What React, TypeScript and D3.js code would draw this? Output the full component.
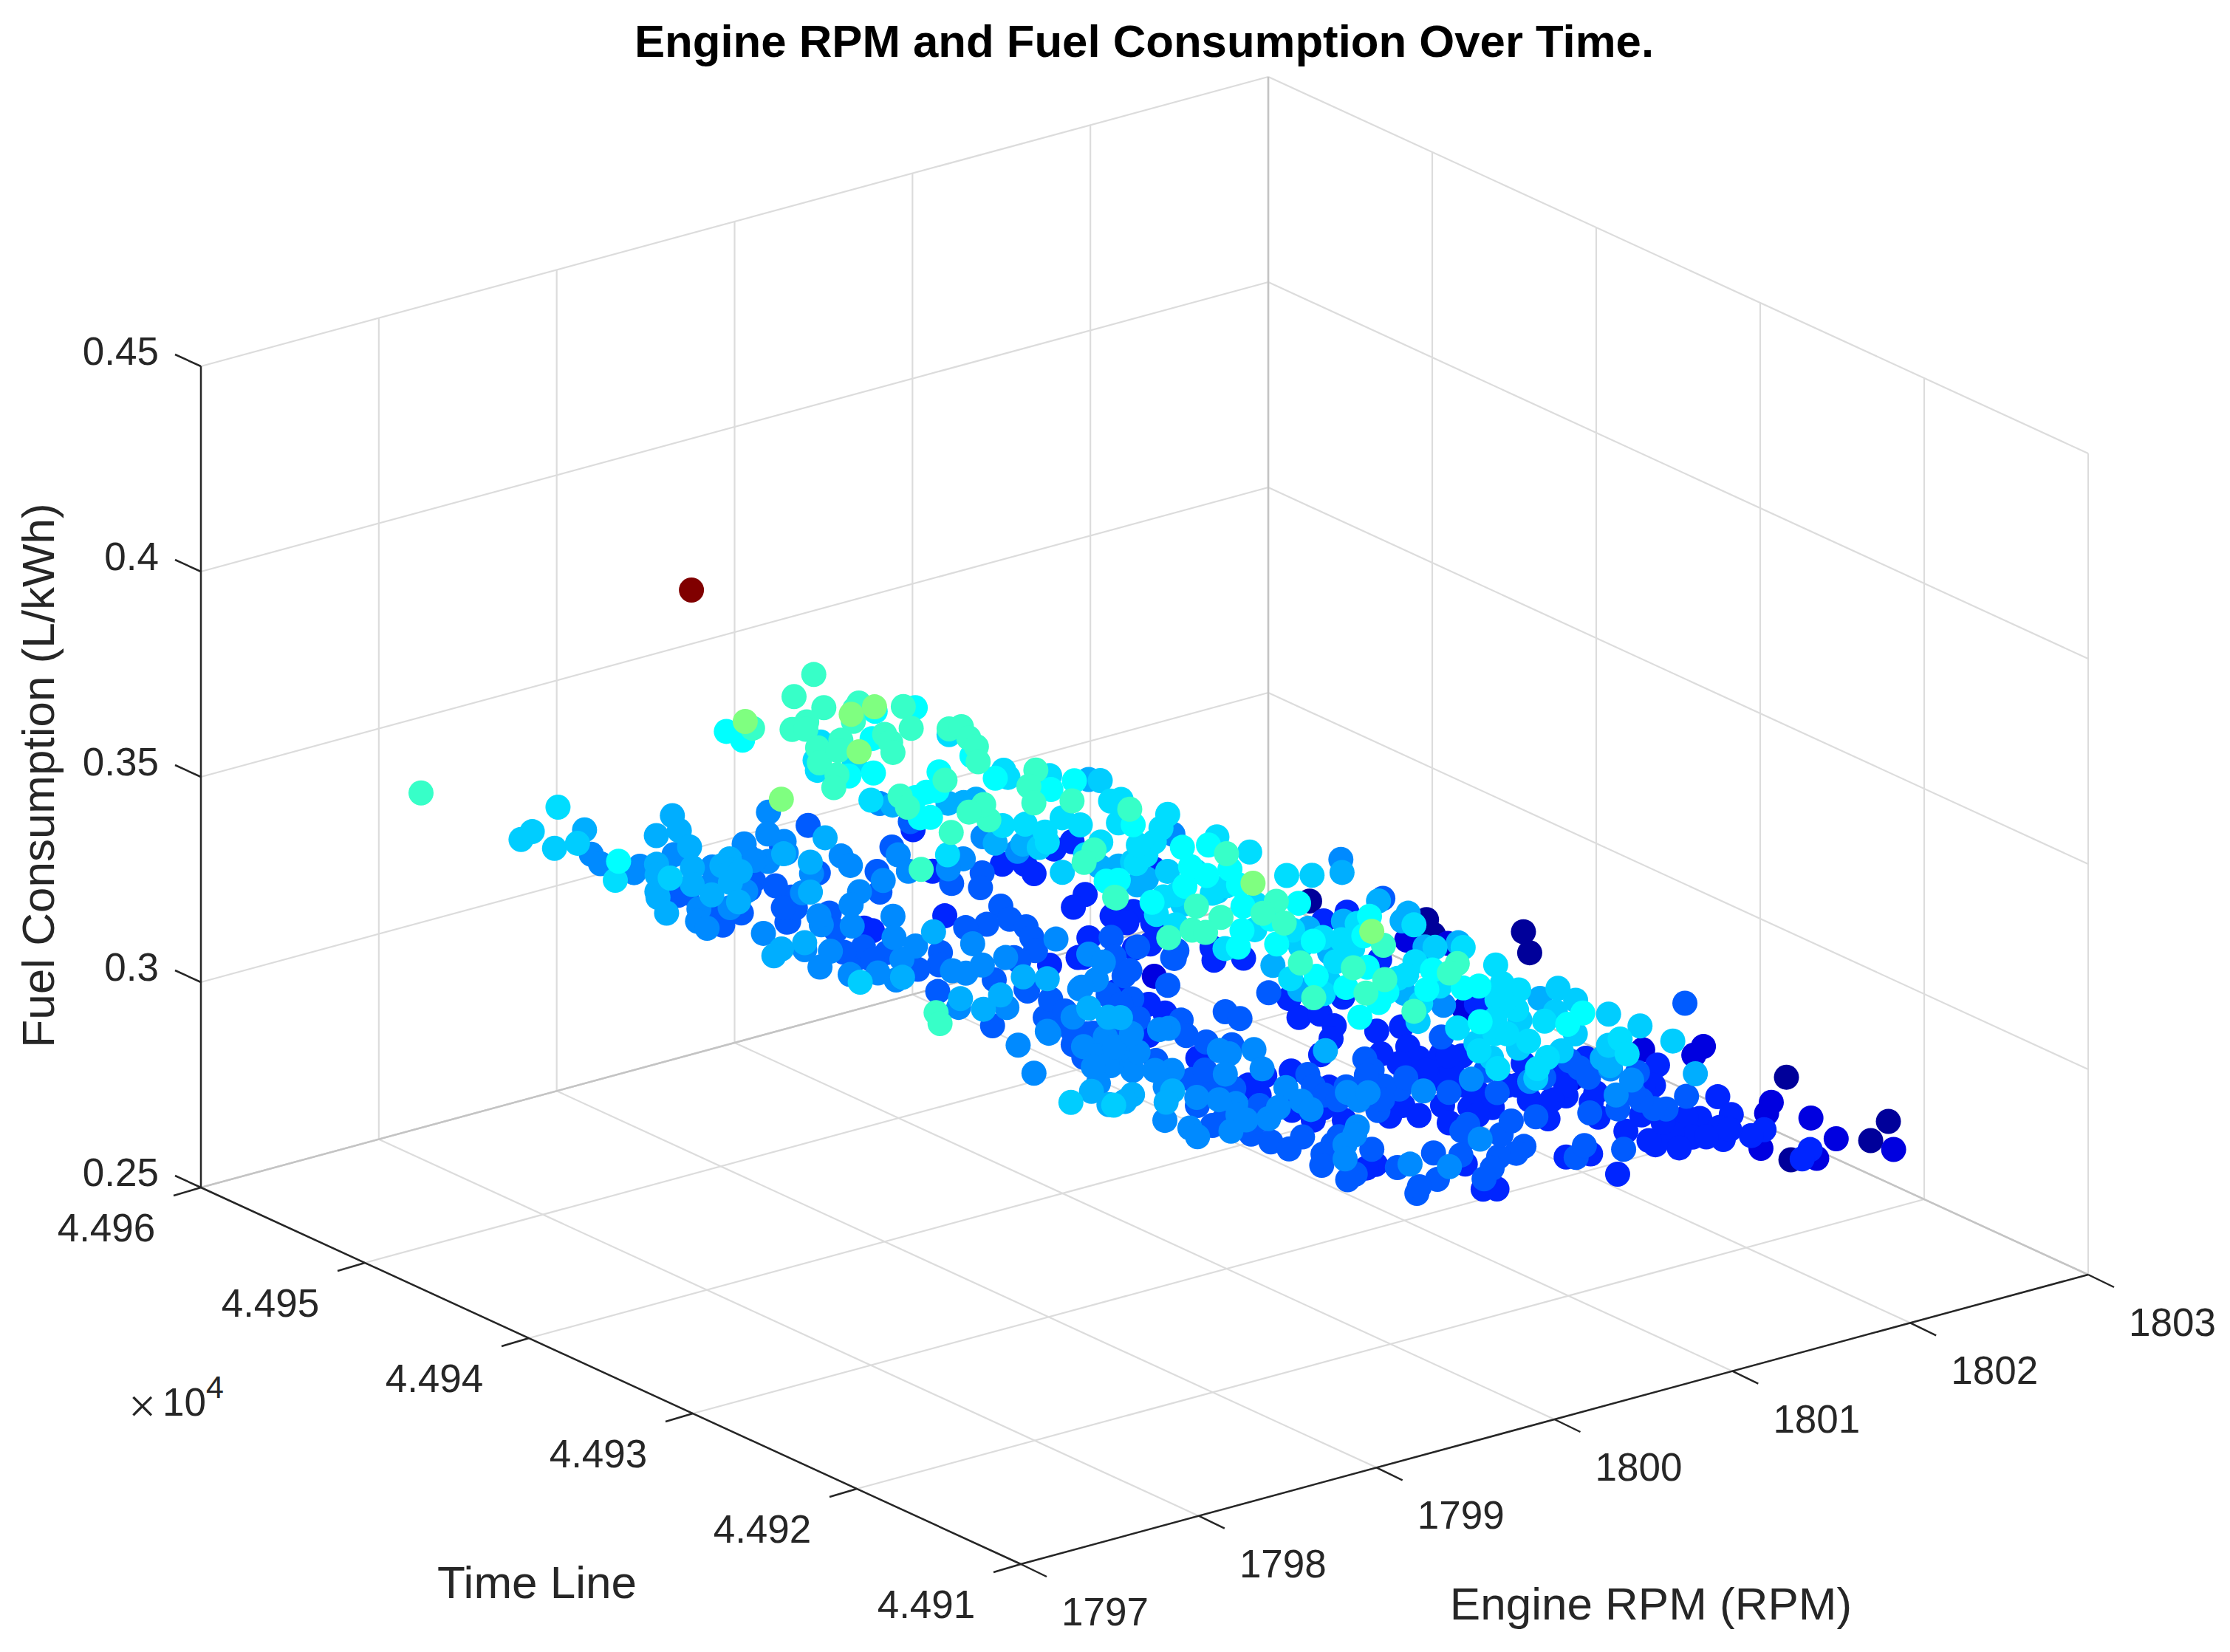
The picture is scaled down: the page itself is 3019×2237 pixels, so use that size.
import React, { useEffect, useRef } from 'react';
import * as d3 from 'd3';

const rpmTicks = [1797, 1798, 1799, 1800, 1801, 1802, 1803];
const timeTicks = [44910, 44920, 44930, 44940, 44950, 44960];
const timeTickLabels = ['4.491', '4.492', '4.493', '4.494', '4.495', '4.496'];
const fuelTicks = [0.25, 0.3, 0.35, 0.4, 0.45];
const fuelTickLabels = ['0.25', '0.3', '0.35', '0.4', '0.45'];

const rpm = [
1797.97,1798.74,1798.44,1798.54,1798.49,1798.88,1798.61,1798.89,1798.85,1798.38,
1798.38,1798.97,1798.90,1799.30,1799.09,1799.21,1799.12,1799.18,1798.87,1798.79,
1798.67,1798.97,1798.84,1799.10,1798.66,1798.62,1798.53,1799.22,1799.09,1799.17,
1799.09,1798.99,1798.83,1799.51,1799.66,1799.48,1799.40,1799.15,1798.87,1798.97,
1799.19,1798.85,1798.75,1798.73,1799.03,1798.89,1798.66,1798.58,1799.84,1799.67,
1799.46,1799.40,1799.84,1799.73,1799.28,1799.35,1799.76,1799.75,1799.64,1800.27,
1800.03,1800.05,1799.88,1799.77,1799.82,1800.21,1800.15,1799.78,1799.92,1800.05,
1800.44,1800.34,1800.61,1800.20,1800.17,1799.72,1799.86,1800.01,1799.61,1799.52,
1799.77,1800.22,1800.06,1800.02,1799.95,1799.85,1799.58,1799.96,1799.47,1799.94,
1800.13,1798.88,1799.90,1800.30,1799.64,1799.58,1800.16,1799.78,1799.82,1799.92,
1800.00,1800.20,1799.92,1800.05,1800.37,1800.49,1800.69,1800.23,1799.97,1799.88,
1799.15,1800.44,1799.54,1799.75,1800.17,1800.04,1800.16,1800.35,1800.23,1800.74,
1800.82,1800.78,1800.42,1800.23,1800.41,1800.17,1799.77,1799.87,1799.76,1800.43,
1800.50,1800.33,1800.68,1800.39,1800.33,1800.29,1800.44,1800.18,1800.35,1800.60,
1800.56,1800.32,1800.17,1800.06,1800.72,1800.46,1800.61,1800.21,1801.05,1800.94,
1800.74,1800.79,1800.35,1800.60,1800.48,1800.45,1800.44,1800.26,1800.27,1800.20,
1800.21,1800.32,1801.04,1801.16,1800.10,1800.24,1799.91,1799.78,1800.42,1800.49,
1800.43,1799.95,1800.00,1799.62,1800.80,1800.66,1800.73,1800.82,1800.16,1800.09,
1800.09,1800.03,1799.88,1800.48,1800.31,1800.33,1800.31,1799.88,1800.17,1799.94,
1800.13,1799.30,1799.37,1799.61,1799.56,1799.81,1799.42,1799.55,1799.97,1799.87,
1800.14,1799.33,1799.59,1799.49,1799.27,1799.30,1799.57,1799.28,1798.91,1799.01,
1798.91,1799.08,1799.18,1799.21,1799.61,1799.47,1799.14,1799.34,1799.58,1799.71,
1799.29,1800.06,1799.86,1799.33,1799.29,1799.91,1799.33,1799.18,1799.38,1798.87,
1799.00,1798.99,1798.54,1799.25,1799.36,1798.99,1798.79,1798.91,1799.48,1799.76,
1799.26,1799.16,1799.22,1799.50,1799.29,1799.42,1799.49,1799.34,1799.20,1799.52,
1799.77,1799.43,1800.10,1799.67,1799.76,1799.72,1799.55,1799.42,1799.99,1799.72,
1799.84,1799.59,1799.67,1800.84,1800.71,1801.10,1800.58,1800.45,1800.35,1800.48,
1800.84,1800.59,1800.35,1800.84,1800.48,1800.35,1800.36,1800.48,1801.24,1800.12,
1799.62,1800.41,1799.95,1800.03,1800.84,1800.75,1800.25,1800.19,1799.84,1800.50,
1800.39,1799.90,1800.79,1800.96,1801.50,1801.23,1800.16,1800.02,1800.46,1802.08,
1799.84,1800.24,1800.02,1800.26,1801.44,1801.59,1801.57,1801.14,1800.61,1800.67,
1800.86,1800.68,1799.95,1800.20,1800.44,1801.07,1801.15,1800.86,1802.35,1801.87,
1802.26,1801.99,1800.95,1800.84,1801.10,1800.86,1800.32,1800.58,1800.45,1800.42,
1800.22,1800.48,1800.46,1800.39,1800.22,1800.07,1800.37,1800.49,1801.34,1800.30,
1799.92,1799.77,1800.27,1800.01,1799.96,1800.01,1799.55,1799.98,1799.94,1800.09,
1799.77,1799.98,1799.80,1800.78,1800.92,1800.44,1800.72,1800.61,1800.71,1800.67,
1800.56,1799.80,1800.40,1800.28,1799.80,1800.21,1800.74,1800.22,1800.19,1800.25,
1800.90,1801.54,1800.71,1800.77,1800.72,1800.61,1800.62,1800.27,1800.21,1800.83,
1800.89,1800.63,1800.27,1800.67,1800.01,1800.44,1800.16,1800.13,1800.30,1799.92,
1800.17,1799.73,1799.71,1799.99,1800.15,1800.33,1800.39,1800.05,1800.75,1800.87,
1800.01,1799.91,1800.84,1800.44,1800.37,1799.50,1799.64,1799.67,1800.02,1800.70,
1800.14,1800.65,1800.56,1800.12,1800.16,1800.17,1799.92,1799.59,1799.55,1799.82,
1799.94,1800.14,1800.14,1799.60,1799.91,1799.84,1799.94,1799.61,1799.73,1799.61,
1800.04,1800.17,1799.95,1800.18,1799.55,1799.88,1799.50,1799.47,1799.87,1799.87,
1799.54,1799.87,1799.58,1799.53,1799.25,1799.17,1799.25,1799.30,1799.02,1799.16,
1799.32,1799.50,1799.28,1798.95,1799.13,1798.84,1798.87,1799.14,1798.78,1798.70,
1798.49,1799.52,1799.30,1799.23,1799.10,1798.90,1798.86,1799.45,1799.50,1799.98,
1799.58,1798.10,1798.03,1798.93,1798.77,1799.13,1799.46,1799.60,1799.62,1799.80,
1800.29,1799.87,1799.60,1799.85,1799.58,1799.30,1799.62,1799.35,1799.15,1799.13,
1799.29,1799.09,1799.26,1798.92,1798.66,1798.36,1798.62,1799.22,1800.37,1799.29,
1799.16,1799.30,1799.31,1799.85,1799.43,1799.32,1799.50,1799.39,1799.30,1799.21,
1799.35,1799.28,1799.60,1799.75,1799.69,1799.55,1800.84,1802.46,1802.60,1800.72,
1800.73,1800.58,1800.96,1800.96,1800.93,1800.62,1800.94,1800.96,1801.83,1800.96,
1802.10,1802.00,1800.93,1800.71,1800.70,1800.62,1800.72,1800.69,1800.67,1800.48,
1800.58,1800.77,1800.58,1800.57,1800.58,1800.42,1800.36,1800.31,1800.05,1800.19,
1800.12,1800.31,1800.49,1800.19,1800.19,1800.98,1800.96,1801.10,1801.31,1801.34,
1800.74,1800.48,1800.86,1800.46,1801.39,1800.95,1800.99,1800.65,1800.90,1800.78,
1800.66,1800.83,1800.84,1801.13,1801.51,1801.86,1801.34,1801.30,1801.12,1801.48,
1800.95,1800.91,1801.07,1801.25,1801.21,1801.39,1801.25,1801.17,1801.08,1801.04,
1800.95,1800.89,1800.90,1800.89,1800.49,1800.53,1800.16,1800.08,1799.99,1800.17,
1800.31,1800.43,1800.71,1800.13,1800.06,1799.84,1799.79,1799.40,1799.87,1799.52,
1800.07,1799.60,1799.42,1799.48,1799.88,1799.94,1799.99,1799.77,1800.48,1800.26,
1800.38,1800.59,1801.81,1801.91,1801.39,1801.52,1801.30,1802.41,1801.93,1801.79,
1801.40,1801.64,1801.86,1802.22,1802.43,1801.98,1801.30,1797.96,
1800.50,1800.39,1800.28,1800.19,1800.50,1800.46,1800.24,1800.05,1800.39,1800.44,
1800.57,1800.46,1800.21,1800.39,1800.52,1800.25,1800.20,1800.18,1800.27,1800.28,
1800.02,1800.65,1800.31,1800.52,1800.33,1799.80,1799.86,1800.00,1799.51,1799.42,
1799.83,1799.03,1799.46,1799.48,1799.46,1799.78,1800.18,1799.62,1799.44,1799.91,
1799.22,1799.40,1799.37,1799.22,1799.07,1799.15,1799.11,1799.42,1799.11,1799.52,
1799.38,1799.39,1799.25,1799.77,1799.40,1799.32,1798.83,1798.88,1799.29,1800.35,
1800.37,1800.61,1800.82,1801.05,1800.66,1800.76,1801.03,1800.92,1801.08,1800.79,
1800.87,1800.84,1800.60,1800.49,1801.09,1801.13,1800.93,1801.27,1800.96,1800.38,
1800.49,1800.39,1800.50,1800.73,1800.82,
];

const timeLine = [
44957.1,44957.1,44956.1,44956.5,44954.6,44957.0,44954.5,44956.7,44955.7,44949.5,
44949.7,44954.6,44954.2,44956.2,44954.9,44954.8,44953.2,44954.8,44952.5,44951.6,
44949.5,44951.4,44950.0,44953.7,44950.2,44949.7,44948.2,44952.9,44950.9,44951.3,
44950.3,44949.3,44948.7,44954.1,44955.6,44953.2,44952.6,44950.1,44947.5,44949.1,
44950.8,44949.7,44948.7,44947.9,44950.2,44946.2,44942.6,44942.2,44956.2,44954.4,
44952.1,44950.5,44955.4,44953.7,44949.0,44952.3,44957.9,44956.8,44955.0,44958.1,
44956.7,44955.1,44954.3,44954.0,44953.7,44954.7,44954.3,44950.5,44950.6,44953.3,
44956.2,44953.4,44955.6,44951.4,44956.6,44951.9,44952.0,44955.2,44950.6,44947.2,
44951.2,44954.0,44951.5,44950.7,44949.8,44951.4,44949.2,44951.1,44948.2,44954.3,
44954.1,44945.0,44950.6,44954.4,44946.0,44944.9,44952.1,44946.3,44946.1,44948.1,
44948.3,44949.7,44946.3,44948.2,44951.0,44954.6,44956.6,44952.9,44949.7,44948.1,
44939.4,44952.7,44941.8,44944.3,44947.9,44947.4,44948.5,44948.7,44947.5,44951.7,
44951.2,44950.2,44947.3,44946.6,44949.3,44945.5,44942.0,44943.4,44943.1,44950.7,
44950.7,44950.5,44954.3,44950.4,44949.3,44948.4,44950.3,44947.1,44947.9,44950.1,
44949.4,44945.1,44943.9,44942.4,44948.6,44945.7,44945.9,44941.7,44949.8,44947.9,
44945.1,44945.0,44939.7,44943.1,44940.9,44943.8,44944.8,44945.1,44944.0,44943.1,
44943.7,44945.9,44951.8,44952.0,44941.1,44941.2,44937.1,44936.3,44942.3,44941.9,
44940.4,44936.8,44936.6,44932.7,44947.3,44946.5,44944.9,44944.7,44945.5,44944.2,
44943.2,44942.2,44939.1,44943.6,44940.4,44939.0,44942.1,44937.1,44938.7,44941.0,
44942.2,44934.8,44934.1,44938.0,44938.7,44940.9,44938.6,44940.6,44944.3,44944.5,
44948.7,44940.6,44943.0,44942.0,44938.8,44938.3,44939.5,44939.8,44934.4,44935.6,
44933.0,44933.8,44934.5,44935.7,44936.5,44935.0,44931.6,44932.2,44934.4,44934.8,
44930.7,44936.9,44935.7,44929.2,44929.5,44934.8,44941.7,44940.9,44942.1,44937.5,
44939.3,44940.3,44936.5,44944.4,44945.2,44943.2,44942.6,44943.9,44944.7,44949.5,
44944.8,44945.6,44946.4,44948.8,44949.0,44950.0,44951.0,44948.7,44946.7,44950.1,
44952.4,44949.2,44956.6,44950.9,44950.9,44949.9,44947.5,44946.6,44951.2,44947.9,
44949.4,44952.4,44953.4,44942.7,44941.7,44945.2,44940.7,44939.8,44939.3,44937.9,
44939.7,44937.5,44933.8,44937.7,44935.0,44935.0,44936.1,44938.8,44947.9,44938.1,
44932.6,44939.9,44934.0,44934.6,44944.8,44945.0,44935.8,44934.6,44930.1,44936.0,
44933.5,44927.3,44934.9,44935.2,44939.3,44936.3,44928.7,44928.0,44930.6,44947.5,
44928.6,44931.6,44926.7,44931.1,44939.7,44939.9,44937.5,44933.1,44927.9,44929.3,
44932.2,44932.4,44920.6,44922.6,44926.4,44930.9,44931.4,44927.9,44943.3,44939.3,
44941.9,44938.1,44928.2,44926.4,44927.8,44924.9,44919.4,44924.8,44923.9,44922.0,
44918.8,44922.2,44919.6,44919.8,44927.1,44927.7,44929.5,44928.3,44935.2,44926.6,
44921.4,44923.0,44930.1,44926.2,44924.1,44924.2,44919.8,44922.5,44919.7,44921.2,
44919.0,44920.5,44919.7,44929.3,44932.9,44932.2,44934.0,44932.2,44932.0,44930.7,
44929.7,44921.8,44928.6,44921.2,44916.4,44920.6,44924.8,44918.3,44916.6,44917.5,
44929.1,44932.2,44924.6,44927.3,44926.1,44926.1,44927.3,44924.5,44923.4,44925.9,
44925.3,44924.0,44918.0,44922.8,44918.1,44921.6,44921.2,44921.8,44922.5,44919.9,
44921.9,44919.7,44918.8,44922.6,44923.1,44919.1,44919.4,44915.6,44938.9,44938.4,
44930.2,44928.3,44940.0,44937.8,44937.2,44928.1,44928.2,44927.7,44933.3,44942.0,
44935.1,44941.7,44941.7,44937.2,44938.5,44935.6,44931.9,44929.1,44929.2,44930.5,
44934.1,44931.6,44930.7,44926.1,44928.7,44929.5,44931.1,44925.6,44925.4,44923.6,
44928.1,44927.9,44924.5,44925.7,44921.5,44923.4,44920.0,44919.1,44923.3,44926.6,
44923.0,44924.6,44925.0,44925.7,44921.3,44920.3,44919.3,44922.6,44919.1,44922.7,
44924.4,44926.7,44925.5,44921.9,44924.3,44921.1,44921.5,44926.4,44922.5,44922.1,
44920.5,44929.1,44927.8,44928.3,44927.3,44920.3,44919.4,44919.4,44916.6,44922.6,
44918.6,44927.1,44926.1,44931.1,44928.4,44931.4,44935.2,44937.8,44936.6,44940.5,
44942.2,44936.1,44934.5,44935.5,44935.3,44929.8,44932.3,44932.3,44929.5,44928.4,
44931.0,44927.4,44928.8,44926.1,44923.7,44921.7,44922.2,44925.9,44937.3,44920.8,
44919.7,44919.7,44918.7,44922.4,44916.0,44915.4,44918.1,44917.5,44916.6,44914.2,
44915.1,44914.8,44916.8,44918.2,44918.1,44914.7,44922.7,44938.2,44940.1,44921.0,
44920.1,44919.8,44921.3,44920.2,44918.8,44915.0,44916.9,44915.2,44921.9,44913.2,
44923.7,44923.2,44911.5,44913.7,44914.3,44912.3,44914.9,44914.1,44916.0,44914.4,
44916.9,44918.3,44918.4,44918.5,44919.4,44918.2,44916.1,44917.0,44914.0,44915.9,
44915.9,44913.8,44914.9,44913.1,44913.2,44919.7,44918.9,44922.0,44922.3,44929.3,
44924.3,44918.7,44921.6,44916.5,44924.0,44919.6,44918.5,44914.9,44917.1,44914.6,
44913.4,44914.3,44915.7,44917.2,44920.1,44924.8,44918.5,44918.7,44914.1,44916.1,
44913.5,44913.8,44916.3,44914.7,44915.1,44914.3,44913.5,44912.4,44913.3,44914.1,
44912.7,44913.5,44914.0,44915.3,44911.1,44911.9,44913.6,44913.2,44913.3,44915.1,
44916.0,44915.8,44918.1,44916.7,44916.3,44912.8,44915.1,44912.3,44914.3,44911.2,
44916.2,44912.8,44912.1,44912.6,44912.5,44913.7,44913.4,44911.8,44914.5,44911.5,
44912.3,44914.2,44916.7,44917.5,44912.3,44913.9,44912.1,44922.0,44915.3,44915.0,
44909.6,44911.8,44913.0,44914.8,44916.0,44910.8,44909.0,44940.5,
44937.3,44935.1,44935.7,44935.9,44935.4,44933.2,44929.9,44929.6,44930.2,44928.9,
44929.9,44927.3,44923.7,44923.8,44924.8,44920.5,44925.9,44927.5,44922.0,44921.3,
44920.7,44924.9,44919.8,44920.8,44920.0,44919.2,44921.7,44924.1,44932.8,44929.5,
44934.6,44927.6,44930.2,44932.9,44933.6,44933.0,44936.7,44927.2,44924.0,44927.7,
44922.0,44921.7,44920.0,44922.4,44951.4,44953.7,44950.0,44952.5,44951.5,44952.3,
44950.3,44947.2,44945.2,44949.1,44944.2,44942.9,44942.1,44940.8,44943.9,44916.7,
44915.6,44920.8,44921.8,44923.3,44921.8,44918.9,44920.5,44917.9,44919.2,44920.1,
44919.6,44925.6,44920.3,44920.0,44915.2,44913.0,44914.8,44913.1,44915.6,44945.8,
44940.2,44941.9,44940.8,44944.0,44943.4,
];

const fuel = [
.34,.3275,.325,.325,.325,.3205,.325,.315,.315,.3325,
.3275,.315,.315,.3205,.3205,.3205,.3205,.315,.3205,.3205,
.325,.3205,.3205,.308,.3205,.3205,.3205,.315,.3205,.3205,
.3205,.3205,.3205,.315,.308,.308,.308,.315,.3205,.315,
.308,.315,.315,.315,.308,.315,.3205,.3205,.315,.315,
.315,.3205,.308,.3,.308,.35,.3325,.3325,.34,.34,
.34,.34,.34,.34,.34,.34,.34,.35,.35,.34,
.3325,.34,.3325,.34,.3275,.34,.34,.3275,.34,.35,
.34,.3325,.34,.34,.34,.3325,.34,.3325,.34,.3275,
.3275,.35,.3275,.315,.34,.34,.3205,.3325,.3325,.3325,
.3325,.3325,.34,.3325,.3205,.308,.3,.308,.315,.315,
.34,.3,.34,.3275,.315,.315,.308,.308,.308,.3,
.3,.3,.315,.3205,.315,.3275,.34,.34,.34,.3205,
.3205,.34,.3275,.34,.34,.34,.3325,.34,.3325,.3275,
.3275,.34,.34,.34,.3275,.3325,.3325,.34,.3205,.325,
.3275,.3275,.34,.3275,.3325,.3275,.3275,.3275,.3275,.3275,
.325,.3205,.3,.3,.325,.3275,.34,.34,.3205,.3205,
.325,.3325,.3325,.34,.3,.3,.3,.3,.308,.308,
.308,.308,.315,.3,.308,.308,.3,.315,.308,.308,
.3,.3205,.3205,.308,.315,.308,.315,.315,.308,.308,
.3,.3205,.308,.308,.315,.315,.308,.308,.3205,.315,
.3205,.3205,.315,.308,.308,.308,.315,.315,.315,.315,
.3205,.308,.308,.3205,.3205,.308,.315,.315,.308,.3205,
.315,.315,.325,.308,.308,.315,.3205,.315,.315,.3,
.315,.315,.315,.308,.308,.308,.308,.315,.3205,.315,
.308,.3205,.308,.3205,.315,.315,.315,.315,.308,.315,
.308,.315,.315,.3275,.3275,.315,.3275,.3275,.3275,.3325,
.3275,.3325,.34,.3275,.3325,.3325,.3325,.325,.3,.3275,
.34,.3205,.3325,.3275,.3,.3,.3275,.3325,.34,.325,
.3325,.35,.3275,.325,.315,.3205,.34,.34,.3325,.283,
.34,.3325,.34,.3275,.3,.3,.308,.3205,.3325,.3275,
.3205,.3205,.35,.34,.3325,.3205,.3205,.3275,.283,.291,
.283,.291,.3205,.325,.3205,.3275,.34,.3275,.3275,.3325,
.34,.3275,.3325,.3325,.3325,.3325,.325,.3275,.3,.3275,
.34,.34,.3205,.3275,.3325,.3275,.34,.3325,.34,.3325,
.34,.3325,.3325,.3,.3,.308,.3,.3,.3,.3,
.3,.3205,.3,.3275,.34,.325,.315,.3275,.3325,.325,
.3,.291,.308,.3,.3,.3,.3,.308,.308,.3,
.3,.3,.315,.3,.315,.3,.308,.308,.3,.308,
.3,.315,.315,.308,.308,.3,.3,.308,.3,.3,
.3275,.3325,.3,.308,.308,.34,.34,.34,.3275,.291,
.308,.3,.3,.308,.3,.3,.308,.315,.315,.308,
.3,.308,.308,.315,.308,.308,.3,.315,.315,.315,
.3,.3,.308,.3,.315,.308,.315,.315,.3,.3,
.308,.3,.308,.308,.315,.315,.315,.308,.315,.315,
.308,.308,.315,.3205,.315,.3205,.315,.315,.3205,.3205,
.325,.308,.315,.315,.315,.315,.315,.308,.315,.3,
.308,.34,.34,.315,.315,.315,.308,.308,.308,.308,
.3,.315,.315,.308,.308,.315,.308,.308,.315,.315,
.308,.315,.315,.315,.3205,.325,.3205,.315,.308,.308,
.315,.308,.308,.308,.315,.315,.308,.308,.308,.315,
.308,.308,.308,.3,.3,.308,.3275,.283,.283,.3275,
.3275,.3275,.3205,.325,.325,.3325,.325,.325,.308,.325,
.291,.291,.3205,.3275,.325,.3275,.3205,.3205,.325,.3325,
.3275,.325,.325,.3275,.3275,.3275,.325,.3275,.3275,.325,
.3275,.3275,.325,.3275,.325,.308,.308,.3,.3,.3,
.3,.308,.3,.315,.291,.3,.3,.308,.3,.308,
.315,.315,.315,.308,.3,.291,.3,.3,.308,.3,
.308,.308,.3,.3,.3,.3,.3,.3,.3,.3,
.3,.3,.3,.3,.308,.3,.308,.308,.308,.308,
.308,.308,.3,.308,.308,.315,.308,.315,.308,.315,
.3,.308,.308,.308,.308,.3,.3,.308,.3,.308,
.308,.3,.291,.291,.3,.291,.3,.283,.291,.283,
.3,.291,.291,.283,.283,.291,.3,.42,
.3275,.3275,.325,.3275,.3275,.3275,.3325,.3325,.3275,.3275,
.3205,.3275,.3325,.3275,.3205,.3325,.325,.3205,.308,.3,
.308,.3,.308,.3,.3,.315,.308,.3,.308,.315,
.308,.315,.308,.308,.308,.308,.3,.308,.315,.3,
.315,.308,.315,.308,.315,.308,.3205,.315,.308,.308,
.308,.308,.308,.3,.308,.315,.315,.315,.308,.3275,
.3275,.308,.3,.3,.3,.308,.3,.308,.3,.3,
.3,.3,.3,.3,.3,.3,.308,.3,.308,.3205,
.3205,.3275,.3275,.3,.3,
];

const project = (() => {
  const originX = 1382;
  const originY = 2118;
  const rpmX = d3.scaleLinear().domain([1797, 1803]).range([0, 1445]);
  const rpmY = d3.scaleLinear().domain([1797, 1803]).range([0, -392]);
  const timeX = d3.scaleLinear().domain([44910, 44960]).range([0, -1110]);
  const timeY = d3.scaleLinear().domain([44910, 44960]).range([0, -510]);
  const fuelY = d3.scaleLinear().domain([0.25, 0.45]).range([0, -1112]);
  return (r: number, t: number, f: number): [number, number] => [
    originX + rpmX(r) + timeX(t),
    originY + rpmY(r) + timeY(t) + fuelY(f),
  ];
})();

// jet colormap over the fuel range
const jet = d3
  .scaleLinear<string>()
  .domain([0.28, 0.2945, 0.3325, 0.3675, 0.4025, 0.42])
  .range(['#000080', '#0000ff', '#00ffff', '#ffff00', '#ff0000', '#800000'])
  .clamp(true);

const App = () => {
  const svgRef = useRef<SVGSVGElement>(null);

  useEffect(() => {
    if (!svgRef.current) return;
    const svg = d3.select(svgRef.current);
    svg.selectAll('*').remove();

    const rMin = 1797, rMax = 1803, tMin = 44910, tMax = 44960, fMin = 0.25, fMax = 0.45;
    const font = '"Liberation Sans", Arial, sans-serif';
    const dark = '#262626';

    const seg = (
      g: d3.Selection<SVGGElement, unknown, null, undefined>,
      a: [number, number],
      b: [number, number],
      stroke: string,
      w: number,
    ) => {
      g.append('line')
        .attr('x1', a[0]).attr('y1', a[1])
        .attr('x2', b[0]).attr('y2', b[1])
        .attr('stroke', stroke)
        .attr('stroke-width', w);
    };

    // Grid on floor and two back walls
    const grid = svg.append('g');
    const gridColor = '#dcdcdc';
    rpmTicks.forEach(r => {
      seg(grid, project(r, tMin, fMin), project(r, tMax, fMin), gridColor, 2.2);
      seg(grid, project(r, tMax, fMin), project(r, tMax, fMax), gridColor, 2.2);
    });
    timeTicks.forEach(t => {
      seg(grid, project(rMin, t, fMin), project(rMax, t, fMin), gridColor, 2.2);
      seg(grid, project(rMax, t, fMin), project(rMax, t, fMax), gridColor, 2.2);
    });
    fuelTicks.forEach(f => {
      seg(grid, project(rMin, tMax, f), project(rMax, tMax, f), gridColor, 2.2);
      seg(grid, project(rMax, tMin, f), project(rMax, tMax, f), gridColor, 2.2);
    });
    const edge = '#c4c4c4';
    seg(grid, project(rMin, tMax, fMin), project(rMax, tMax, fMin), edge, 2.5);
    seg(grid, project(rMax, tMin, fMin), project(rMax, tMax, fMin), edge, 2.5);
    seg(grid, project(rMax, tMax, fMin), project(rMax, tMax, fMax), edge, 2.5);

    // Scatter points, low fuel first
    const order = d3.range(rpm.length).sort((a, b) => d3.ascending(fuel[a], fuel[b]));
    svg.append('g')
      .selectAll('circle')
      .data(order)
      .join('circle')
      .attr('cx', i => project(rpm[i], timeLine[i], fuel[i])[0])
      .attr('cy', i => project(rpm[i], timeLine[i], fuel[i])[1])
      .attr('r', 17)
      .attr('fill', i => jet(fuel[i]));

    // Axes
    const axes = svg.append('g');
    seg(axes, project(rMin, tMax, fMin), project(rMin, tMax, fMax), dark, 2.5);
    seg(axes, project(rMin, tMax, fMin), project(rMin, tMin, fMin), dark, 2.5);
    seg(axes, project(rMin, tMin, fMin), project(rMax, tMin, fMin), dark, 2.5);

    const text = (x: number, y: number, s: string, size: number, anchor = 'middle') =>
      svg.append('text')
        .attr('x', x)
        .attr('y', y)
        .attr('font-family', font)
        .attr('font-size', size)
        .attr('fill', dark)
        .attr('text-anchor', anchor)
        .text(s);

    rpmTicks.forEach(r => {
      const p = project(r, tMin, fMin);
      seg(axes, p, [p[0] + 35, p[1] + 17], dark, 2.5);
      text(p[0] + 114, p[1] + 83, String(r), 53);
    });
    timeTicks.forEach((t, i) => {
      const p = project(rMin, t, fMin);
      seg(axes, p, [p[0] - 37, p[1] + 11], dark, 2.5);
      text(p[0] - 128, p[1] + 73, timeTickLabels[i], 53);
    });
    fuelTicks.forEach((f, i) => {
      const p = project(rMin, tMax, f);
      seg(axes, p, [p[0] - 35, p[1] - 16], dark, 2.5);
      text(215, p[1] - 2, fuelTickLabels[i], 53, 'end');
    });

    // Exponent note for the time axis
    svg.append('text')
      .attr('x', 174).attr('y', 1926)
      .attr('font-family', '"Liberation Serif", serif')
      .attr('font-size', 66).attr('fill', dark)
      .text('×');
    text(220, 1917, '10', 53, 'start');
    text(279, 1893, '4', 43, 'start');

    // Axis labels and title
    text(727, 2164, 'Time Line', 62);
    text(2235, 2193, 'Engine RPM (RPM)', 62);
    svg.append('text')
      .attr('transform', 'translate(73,1050) rotate(-90)')
      .attr('font-family', font)
      .attr('font-size', 62)
      .attr('fill', dark)
      .attr('text-anchor', 'middle')
      .text('Fuel Consumption (L/kWh)');
    svg.append('text')
      .attr('x', 1549).attr('y', 77)
      .attr('font-family', font)
      .attr('font-size', 61.7)
      .attr('font-weight', 'bold')
      .attr('fill', '#000')
      .attr('text-anchor', 'middle')
      .text('Engine RPM and Fuel Consumption Over Time.');
  }, []);

  return (
    <svg
      ref={svgRef}
      width={3019}
      height={2237}
      style={{ position: 'absolute', left: 0, top: 0, background: '#fff' }}
    />
  );
};

export default App;
